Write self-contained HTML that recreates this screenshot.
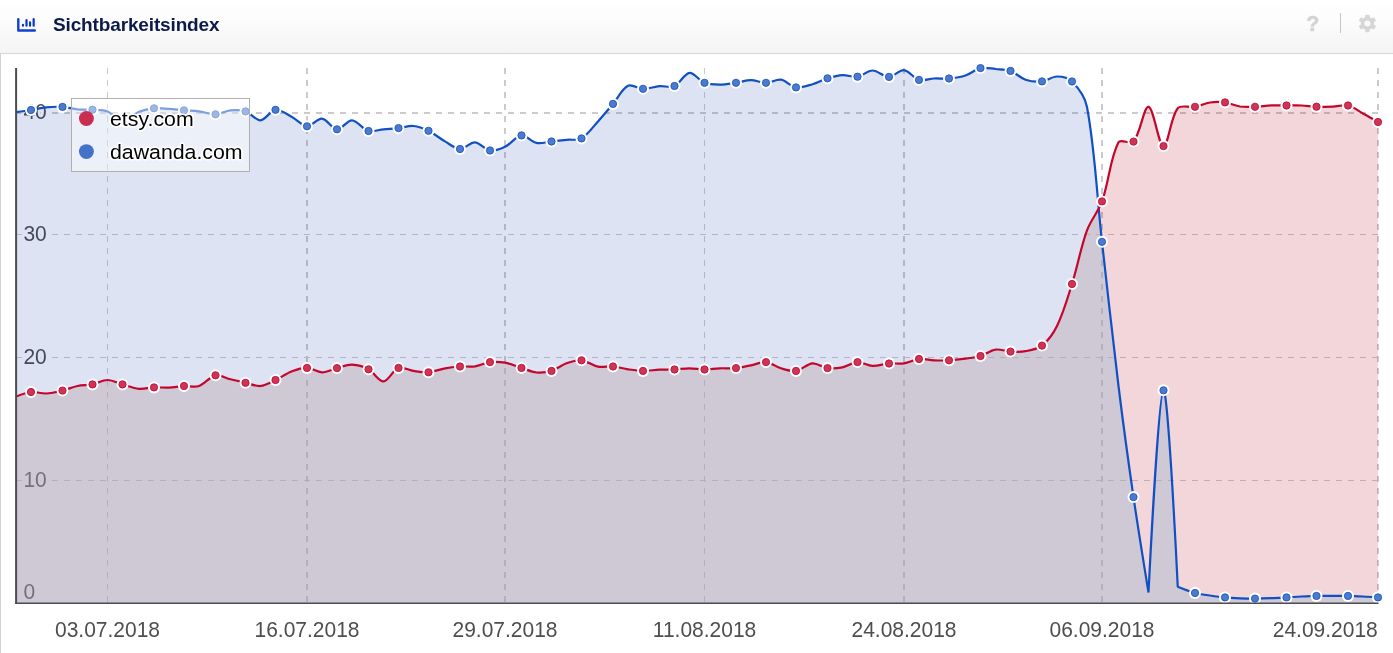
<!DOCTYPE html>
<html lang="de">
<head>
<meta charset="utf-8">
<title>Sichtbarkeitsindex</title>
<style>
html,body{margin:0;padding:0;background:#fff;}
body{width:1393px;height:653px;overflow:hidden;position:relative;font-family:"Liberation Sans",Arial,sans-serif;}
.panel{position:absolute;left:0;top:0;width:1393px;height:653px;box-sizing:border-box;background:#fff;overflow:hidden;}
.panel:before{content:"";position:absolute;left:0;top:53px;bottom:0;width:1px;background:#d0d0d0;}
.header{position:absolute;left:0;top:0;width:1393px;height:54px;box-sizing:border-box;background:linear-gradient(to bottom,#ffffff 0%,#fcfcfc 40%,#f4f4f4 100%);border-bottom:1px solid #d6d6d6;}
.title{position:absolute;left:53px;top:11px;height:28px;line-height:28px;font-size:19px;font-weight:bold;color:#0c1a4b;letter-spacing:-0.14px;white-space:nowrap;}
.icon{position:absolute;left:0;top:0;}
.help{position:absolute;left:1302.8px;top:9.9px;width:20px;height:28px;line-height:28px;text-align:center;font-size:21.5px;font-weight:bold;color:#d4d4d4;-webkit-text-stroke:0.6px #d4d4d4;}
.sep{position:absolute;left:1339.7px;top:13px;width:1.4px;height:20px;background:#c6c6c6;}
.gear{position:absolute;left:1350px;top:8px;}
svg.chart{position:absolute;left:0;top:0;}
svg.chart text{font-family:"Liberation Sans",Arial,sans-serif;}
</style>
</head>
<body>
<div class="panel">
  <div class="header">
    <svg class="icon" width="60" height="53" viewBox="0 0 60 53">
      <path d="M18.3 19.2V30.45H34.8" fill="none" stroke="#0f3fcf" stroke-width="2.4" stroke-linecap="round" stroke-linejoin="round"/>
      <path d="M22.95 24.95V25.65M26.5 20.15V25.65M30.05 22.45V25.65M33.65 19.2V25.65" fill="none" stroke="#0b36c6" stroke-width="2.2" stroke-linecap="round"/>
    </svg>
    <div class="title">Sichtbarkeitsindex</div>
    <div class="help">?</div>
    <div class="sep"></div>
    <svg class="gear" width="36" height="32" viewBox="0 0 36 32">
      <g transform="translate(17.45 15.45)">
        <g fill="#d6d6d6">
          <circle r="6.6"/>
          <rect x="-2.2" y="-8.8" width="4.4" height="17.6" rx="0.8"/>
          <rect x="-2.2" y="-8.8" width="4.4" height="17.6" rx="0.8" transform="rotate(60)"/>
          <rect x="-2.2" y="-8.8" width="4.4" height="17.6" rx="0.8" transform="rotate(120)"/>
        </g>
        <circle r="3" fill="#f9f9f9"/>
      </g>
    </svg>
  </div>
  <svg class="chart" width="1393" height="653" viewBox="0 0 1393 653">
    <defs>
      <clipPath id="plot"><rect x="16" y="54" width="1372" height="549.6"/></clipPath>
      <clipPath id="bluearea"><path d="M16.00,112.20C16.00,112.20 26.01,110.81 31.00,110.00C36.01,109.18 40.96,107.80 46.00,107.30C51.46,106.76 57.03,106.55 62.50,106.90C67.53,107.22 72.47,108.83 77.50,109.30C82.47,109.76 87.52,109.33 92.50,109.70C97.52,110.07 102.90,109.77 107.50,111.50C112.90,113.53 117.41,120.95 122.50,121.00C127.91,121.05 133.22,114.13 139.00,111.80C143.72,109.90 148.94,108.79 154.00,108.30C158.94,107.82 164.01,108.57 169.00,108.90C174.01,109.23 179.00,109.90 184.00,110.30C188.99,110.70 194.04,110.67 199.00,111.30C204.54,112.00 210.05,114.47 215.50,114.30C220.55,114.14 225.42,110.79 230.50,110.30C235.42,109.82 240.87,109.86 245.50,111.40C250.87,113.19 255.62,120.56 260.50,120.30C265.62,120.03 270.21,110.35 275.50,109.80C280.71,109.25 286.70,114.22 292.00,117.00C297.20,119.72 301.88,126.01 307.00,126.30C311.88,126.58 317.22,118.22 322.00,118.70C327.22,119.22 331.88,129.03 337.00,129.30C341.88,129.56 347.06,120.03 352.00,120.30C357.56,120.60 362.56,129.30 368.50,131.00C373.06,132.30 378.49,129.78 383.50,129.30C388.49,128.82 393.52,128.65 398.50,128.10C403.52,127.55 408.60,125.56 413.50,126.00C418.60,126.46 423.82,128.51 428.50,130.80C434.32,133.65 439.35,138.13 445.00,141.40C449.85,144.20 454.94,148.83 460.00,149.00C464.94,149.16 470.10,142.15 475.00,142.40C480.10,142.65 484.75,149.73 490.00,150.50C494.75,151.20 500.43,148.99 505.00,146.80C510.93,143.96 515.78,136.11 521.50,135.40C526.28,134.81 531.23,141.83 536.50,142.90C541.23,143.86 546.51,142.02 551.50,141.50C556.50,140.98 561.50,140.32 566.50,139.80C571.49,139.28 577.42,140.78 581.50,138.40C587.92,134.65 592.68,127.23 598.00,121.40C603.18,115.73 608.05,109.77 613.00,103.90C618.05,97.91 621.94,88.85 628.00,85.80C631.94,83.82 637.98,88.74 643.00,88.80C648.48,88.87 653.97,86.69 659.50,86.20C664.47,85.76 670.21,87.92 674.50,86.00C680.21,83.45 684.24,73.36 689.50,72.80C694.24,72.29 699.06,80.66 704.50,82.80C709.06,84.59 714.50,84.60 719.50,84.60C725.00,84.60 730.52,83.56 736.00,82.80C741.02,82.10 746.00,80.20 751.00,80.20C756.00,80.20 761.02,82.88 766.00,82.80C771.01,82.72 776.24,78.97 781.00,79.70C786.24,80.50 790.74,86.65 796.00,87.40C801.24,88.15 807.14,85.75 812.50,84.20C817.64,82.72 822.38,79.85 827.50,78.30C832.38,76.82 837.46,75.37 842.50,75.10C847.46,74.84 852.68,77.44 857.50,76.70C862.68,75.91 867.48,70.47 872.50,70.50C877.98,70.53 883.56,76.97 889.00,76.90C894.06,76.84 899.21,69.62 904.00,70.10C909.21,70.62 913.57,78.38 919.00,79.90C923.57,81.18 928.99,78.73 934.00,78.50C938.99,78.27 944.04,78.97 949.00,78.50C954.54,77.97 960.24,77.24 965.50,75.50C970.74,73.77 975.23,69.24 980.50,68.10C985.23,67.07 990.52,68.53 995.50,69.00C1000.51,69.47 1005.85,69.24 1010.50,70.90C1015.85,72.81 1020.13,77.91 1025.50,79.70C1030.63,81.41 1036.62,81.95 1042.00,81.40C1047.12,80.88 1052.01,76.48 1057.00,76.50C1062.00,76.52 1068.52,77.96 1072.00,81.50C1078.52,88.12 1085.21,97.43 1087.00,107.00C1095.21,150.86 1096.93,196.88 1102.00,241.80C1107.43,289.87 1112.58,337.99 1118.50,386.00C1123.08,423.08 1128.13,460.12 1133.50,497.10C1138.13,528.95 1148.50,592.50 1148.50,592.50C1148.50,592.50 1158.56,391.26 1163.50,390.30C1168.30,389.36 1177.75,586.80 1177.75,586.80C1177.75,586.80 1189.12,591.42 1195.00,593.00C1199.87,594.31 1204.99,594.76 1210.00,595.50C1214.99,596.23 1219.99,596.93 1225.00,597.40C1229.98,597.87 1235.00,598.10 1240.00,598.30C1245.00,598.50 1250.00,598.62 1255.00,598.60C1260.50,598.58 1266.00,598.41 1271.50,598.20C1276.50,598.01 1281.50,597.68 1286.50,597.40C1291.50,597.12 1296.50,596.75 1301.50,596.50C1306.50,596.25 1311.50,596.00 1316.50,595.90C1322.00,595.80 1327.50,595.90 1333.00,595.90C1338.00,595.90 1343.00,595.80 1348.00,595.90C1353.00,596.00 1358.00,596.25 1363.00,596.50C1368.00,596.75 1378.00,597.40 1378.00,597.40L1378.00,603.00L16.00,603.00Z"/></clipPath>
    </defs>
    <g stroke="#cbcbcb" stroke-dasharray="6 6" fill="none" shape-rendering="crispEdges">
<line x1="107.5" y1="68" x2="107.5" y2="603" stroke-width="1"/>
<line x1="307.0" y1="68" x2="307.0" y2="603" stroke-width="2"/>
<line x1="505.0" y1="68" x2="505.0" y2="603" stroke-width="2"/>
<line x1="704.5" y1="68" x2="704.5" y2="603" stroke-width="1"/>
<line x1="904.0" y1="68" x2="904.0" y2="603" stroke-width="2"/>
<line x1="1102.0" y1="68" x2="1102.0" y2="603" stroke-width="2"/>
<line x1="1378.0" y1="68" x2="1378.0" y2="603" stroke-width="2"/>
<line x1="16" y1="113.0" x2="1378" y2="113.0" stroke-width="2"/>
<line x1="16" y1="234.5" x2="1378" y2="234.5" stroke-width="1"/>
<line x1="16" y1="357.5" x2="1378" y2="357.5" stroke-width="1"/>
<line x1="16" y1="480.5" x2="1378" y2="480.5" stroke-width="1"/>
    </g>
    <g font-size="21" fill="#4c4c4c" stroke="#fff" stroke-width="5.5" stroke-linejoin="round" paint-order="stroke">
<text transform="translate(23.4 119.20) scale(1 1.06)">40</text>
<text transform="translate(23.4 241.10) scale(1 1.06)">30</text>
<text transform="translate(23.4 364.10) scale(1 1.06)">20</text>
<text transform="translate(23.4 487.10) scale(1 1.06)">10</text>
<text transform="translate(23.4 599.00) scale(1 1.06)">0</text>
    </g>
    <g clip-path="url(#plot)">
      <path d="M16.00,112.20C16.00,112.20 26.01,110.81 31.00,110.00C36.01,109.18 40.96,107.80 46.00,107.30C51.46,106.76 57.03,106.55 62.50,106.90C67.53,107.22 72.47,108.83 77.50,109.30C82.47,109.76 87.52,109.33 92.50,109.70C97.52,110.07 102.90,109.77 107.50,111.50C112.90,113.53 117.41,120.95 122.50,121.00C127.91,121.05 133.22,114.13 139.00,111.80C143.72,109.90 148.94,108.79 154.00,108.30C158.94,107.82 164.01,108.57 169.00,108.90C174.01,109.23 179.00,109.90 184.00,110.30C188.99,110.70 194.04,110.67 199.00,111.30C204.54,112.00 210.05,114.47 215.50,114.30C220.55,114.14 225.42,110.79 230.50,110.30C235.42,109.82 240.87,109.86 245.50,111.40C250.87,113.19 255.62,120.56 260.50,120.30C265.62,120.03 270.21,110.35 275.50,109.80C280.71,109.25 286.70,114.22 292.00,117.00C297.20,119.72 301.88,126.01 307.00,126.30C311.88,126.58 317.22,118.22 322.00,118.70C327.22,119.22 331.88,129.03 337.00,129.30C341.88,129.56 347.06,120.03 352.00,120.30C357.56,120.60 362.56,129.30 368.50,131.00C373.06,132.30 378.49,129.78 383.50,129.30C388.49,128.82 393.52,128.65 398.50,128.10C403.52,127.55 408.60,125.56 413.50,126.00C418.60,126.46 423.82,128.51 428.50,130.80C434.32,133.65 439.35,138.13 445.00,141.40C449.85,144.20 454.94,148.83 460.00,149.00C464.94,149.16 470.10,142.15 475.00,142.40C480.10,142.65 484.75,149.73 490.00,150.50C494.75,151.20 500.43,148.99 505.00,146.80C510.93,143.96 515.78,136.11 521.50,135.40C526.28,134.81 531.23,141.83 536.50,142.90C541.23,143.86 546.51,142.02 551.50,141.50C556.50,140.98 561.50,140.32 566.50,139.80C571.49,139.28 577.42,140.78 581.50,138.40C587.92,134.65 592.68,127.23 598.00,121.40C603.18,115.73 608.05,109.77 613.00,103.90C618.05,97.91 621.94,88.85 628.00,85.80C631.94,83.82 637.98,88.74 643.00,88.80C648.48,88.87 653.97,86.69 659.50,86.20C664.47,85.76 670.21,87.92 674.50,86.00C680.21,83.45 684.24,73.36 689.50,72.80C694.24,72.29 699.06,80.66 704.50,82.80C709.06,84.59 714.50,84.60 719.50,84.60C725.00,84.60 730.52,83.56 736.00,82.80C741.02,82.10 746.00,80.20 751.00,80.20C756.00,80.20 761.02,82.88 766.00,82.80C771.01,82.72 776.24,78.97 781.00,79.70C786.24,80.50 790.74,86.65 796.00,87.40C801.24,88.15 807.14,85.75 812.50,84.20C817.64,82.72 822.38,79.85 827.50,78.30C832.38,76.82 837.46,75.37 842.50,75.10C847.46,74.84 852.68,77.44 857.50,76.70C862.68,75.91 867.48,70.47 872.50,70.50C877.98,70.53 883.56,76.97 889.00,76.90C894.06,76.84 899.21,69.62 904.00,70.10C909.21,70.62 913.57,78.38 919.00,79.90C923.57,81.18 928.99,78.73 934.00,78.50C938.99,78.27 944.04,78.97 949.00,78.50C954.54,77.97 960.24,77.24 965.50,75.50C970.74,73.77 975.23,69.24 980.50,68.10C985.23,67.07 990.52,68.53 995.50,69.00C1000.51,69.47 1005.85,69.24 1010.50,70.90C1015.85,72.81 1020.13,77.91 1025.50,79.70C1030.63,81.41 1036.62,81.95 1042.00,81.40C1047.12,80.88 1052.01,76.48 1057.00,76.50C1062.00,76.52 1068.52,77.96 1072.00,81.50C1078.52,88.12 1085.21,97.43 1087.00,107.00C1095.21,150.86 1096.93,196.88 1102.00,241.80C1107.43,289.87 1112.58,337.99 1118.50,386.00C1123.08,423.08 1128.13,460.12 1133.50,497.10C1138.13,528.95 1148.50,592.50 1148.50,592.50C1148.50,592.50 1158.56,391.26 1163.50,390.30C1168.30,389.36 1177.75,586.80 1177.75,586.80C1177.75,586.80 1189.12,591.42 1195.00,593.00C1199.87,594.31 1204.99,594.76 1210.00,595.50C1214.99,596.23 1219.99,596.93 1225.00,597.40C1229.98,597.87 1235.00,598.10 1240.00,598.30C1245.00,598.50 1250.00,598.62 1255.00,598.60C1260.50,598.58 1266.00,598.41 1271.50,598.20C1276.50,598.01 1281.50,597.68 1286.50,597.40C1291.50,597.12 1296.50,596.75 1301.50,596.50C1306.50,596.25 1311.50,596.00 1316.50,595.90C1322.00,595.80 1327.50,595.90 1333.00,595.90C1338.00,595.90 1343.00,595.80 1348.00,595.90C1353.00,596.00 1358.00,596.25 1363.00,596.50C1368.00,596.75 1378.00,597.40 1378.00,597.40L1378.00,603.00L16.00,603.00Z" fill="rgba(28,68,168,0.15)"/>
      <path d="M16.00,396.60C16.00,396.60 25.90,392.53 31.00,392.00C35.90,391.49 41.03,393.72 46.00,393.50C51.53,393.25 57.08,391.89 62.50,390.60C67.58,389.39 72.40,387.05 77.50,386.00C82.40,384.99 87.59,385.38 92.50,384.40C97.59,383.38 102.50,380.00 107.50,380.00C112.50,380.00 117.48,383.00 122.50,384.40C127.98,385.93 133.42,388.27 139.00,388.80C143.92,389.27 148.99,387.60 154.00,387.40C158.99,387.20 164.01,387.83 169.00,387.60C174.01,387.37 178.99,386.27 184.00,386.00C188.99,385.73 194.46,387.54 199.00,386.00C204.96,383.98 209.63,376.55 215.50,375.30C220.13,374.31 225.48,378.05 230.50,379.30C235.48,380.54 240.49,381.68 245.50,382.80C250.49,383.91 255.63,386.45 260.50,386.00C265.63,385.52 270.63,382.27 275.50,380.00C281.13,377.37 286.25,373.51 292.00,371.30C296.74,369.48 302.04,367.73 307.00,367.90C312.04,368.07 316.99,372.27 322.00,372.30C326.99,372.33 331.97,369.37 337.00,368.10C341.97,366.84 347.03,364.51 352.00,364.70C357.53,364.91 363.56,366.68 368.50,369.30C374.06,372.25 378.62,381.63 383.50,381.40C388.61,381.16 392.81,369.89 398.50,367.90C402.81,366.39 408.46,370.16 413.50,370.90C418.46,371.63 423.56,372.71 428.50,372.30C434.06,371.84 439.44,369.32 445.00,368.30C449.94,367.39 454.98,366.83 460.00,366.50C464.98,366.17 470.09,367.02 475.00,366.30C480.09,365.55 484.91,362.71 490.00,362.10C494.91,361.51 500.12,361.80 505.00,362.70C510.62,363.74 515.99,366.19 521.50,367.90C526.49,369.45 531.40,371.99 536.50,372.50C541.40,372.99 546.77,372.35 551.50,370.90C556.77,369.28 561.26,365.15 566.50,363.30C571.26,361.62 576.63,359.77 581.50,360.30C587.13,360.91 592.32,365.58 598.00,366.70C602.82,367.65 608.04,366.07 613.00,366.50C618.04,366.94 622.97,368.56 628.00,369.30C632.97,370.03 637.99,370.84 643.00,370.90C648.49,370.97 653.99,369.94 659.50,369.70C664.49,369.48 669.51,369.73 674.50,369.50C679.51,369.27 684.50,368.30 689.50,368.30C694.50,368.30 699.50,369.50 704.50,369.50C709.50,369.50 714.49,368.52 719.50,368.30C724.99,368.06 730.55,368.62 736.00,368.10C741.04,367.62 746.01,366.30 751.00,365.30C756.01,364.30 761.14,361.61 766.00,362.10C771.14,362.61 775.84,366.79 781.00,368.30C785.84,369.72 791.21,371.66 796.00,370.90C801.71,369.99 806.88,363.80 812.50,363.30C817.38,362.87 822.38,367.42 827.50,368.10C832.38,368.75 837.64,368.27 842.50,367.30C847.64,366.27 852.44,362.34 857.50,362.10C862.44,361.87 867.45,365.68 872.50,365.90C877.95,366.14 883.47,363.96 889.00,363.50C893.97,363.09 899.10,364.04 904.00,363.30C909.10,362.54 913.91,359.51 919.00,359.00C923.91,358.51 928.99,360.08 934.00,360.30C938.99,360.52 944.01,360.57 949.00,360.30C954.51,360.00 960.03,359.35 965.50,358.60C970.52,357.91 975.67,357.45 980.50,356.00C985.67,354.45 990.31,350.36 995.50,349.60C1000.31,348.89 1005.48,351.33 1010.50,351.60C1015.48,351.87 1020.64,352.13 1025.50,351.20C1031.14,350.13 1037.66,349.08 1042.00,345.60C1048.15,340.68 1053.44,333.31 1057.00,326.00C1063.44,312.78 1067.56,298.18 1072.00,284.00C1077.56,266.28 1080.69,247.68 1087.00,230.30C1090.69,220.15 1098.36,211.57 1102.00,201.40C1108.86,182.24 1110.07,158.31 1118.50,142.30C1120.56,138.38 1130.66,144.96 1133.50,141.60C1140.66,133.13 1143.76,106.09 1148.50,106.80C1153.76,107.59 1158.53,145.84 1163.50,146.10C1168.28,146.34 1170.40,117.47 1177.75,108.30C1180.90,104.37 1189.35,107.82 1195.00,106.80C1200.10,105.88 1204.90,103.25 1210.00,102.50C1214.90,101.78 1220.09,101.75 1225.00,102.40C1230.09,103.08 1234.91,105.75 1240.00,106.50C1244.91,107.22 1250.01,106.97 1255.00,106.80C1260.51,106.61 1265.99,105.63 1271.50,105.40C1276.49,105.19 1281.50,105.48 1286.50,105.50C1291.50,105.52 1296.51,105.30 1301.50,105.50C1306.51,105.70 1311.49,106.51 1316.50,106.70C1321.99,106.91 1327.51,106.91 1333.00,106.70C1338.01,106.51 1343.31,104.44 1348.00,105.50C1353.30,106.70 1358.04,110.77 1363.00,113.50C1368.03,116.27 1378.00,122.00 1378.00,122.00L1378.00,603.00L16.00,603.00Z" fill="rgba(180,0,24,0.16)"/>
      <g clip-path="url(#bluearea)"><path d="M16.00,396.60C16.00,396.60 25.90,392.53 31.00,392.00C35.90,391.49 41.03,393.72 46.00,393.50C51.53,393.25 57.08,391.89 62.50,390.60C67.58,389.39 72.40,387.05 77.50,386.00C82.40,384.99 87.59,385.38 92.50,384.40C97.59,383.38 102.50,380.00 107.50,380.00C112.50,380.00 117.48,383.00 122.50,384.40C127.98,385.93 133.42,388.27 139.00,388.80C143.92,389.27 148.99,387.60 154.00,387.40C158.99,387.20 164.01,387.83 169.00,387.60C174.01,387.37 178.99,386.27 184.00,386.00C188.99,385.73 194.46,387.54 199.00,386.00C204.96,383.98 209.63,376.55 215.50,375.30C220.13,374.31 225.48,378.05 230.50,379.30C235.48,380.54 240.49,381.68 245.50,382.80C250.49,383.91 255.63,386.45 260.50,386.00C265.63,385.52 270.63,382.27 275.50,380.00C281.13,377.37 286.25,373.51 292.00,371.30C296.74,369.48 302.04,367.73 307.00,367.90C312.04,368.07 316.99,372.27 322.00,372.30C326.99,372.33 331.97,369.37 337.00,368.10C341.97,366.84 347.03,364.51 352.00,364.70C357.53,364.91 363.56,366.68 368.50,369.30C374.06,372.25 378.62,381.63 383.50,381.40C388.61,381.16 392.81,369.89 398.50,367.90C402.81,366.39 408.46,370.16 413.50,370.90C418.46,371.63 423.56,372.71 428.50,372.30C434.06,371.84 439.44,369.32 445.00,368.30C449.94,367.39 454.98,366.83 460.00,366.50C464.98,366.17 470.09,367.02 475.00,366.30C480.09,365.55 484.91,362.71 490.00,362.10C494.91,361.51 500.12,361.80 505.00,362.70C510.62,363.74 515.99,366.19 521.50,367.90C526.49,369.45 531.40,371.99 536.50,372.50C541.40,372.99 546.77,372.35 551.50,370.90C556.77,369.28 561.26,365.15 566.50,363.30C571.26,361.62 576.63,359.77 581.50,360.30C587.13,360.91 592.32,365.58 598.00,366.70C602.82,367.65 608.04,366.07 613.00,366.50C618.04,366.94 622.97,368.56 628.00,369.30C632.97,370.03 637.99,370.84 643.00,370.90C648.49,370.97 653.99,369.94 659.50,369.70C664.49,369.48 669.51,369.73 674.50,369.50C679.51,369.27 684.50,368.30 689.50,368.30C694.50,368.30 699.50,369.50 704.50,369.50C709.50,369.50 714.49,368.52 719.50,368.30C724.99,368.06 730.55,368.62 736.00,368.10C741.04,367.62 746.01,366.30 751.00,365.30C756.01,364.30 761.14,361.61 766.00,362.10C771.14,362.61 775.84,366.79 781.00,368.30C785.84,369.72 791.21,371.66 796.00,370.90C801.71,369.99 806.88,363.80 812.50,363.30C817.38,362.87 822.38,367.42 827.50,368.10C832.38,368.75 837.64,368.27 842.50,367.30C847.64,366.27 852.44,362.34 857.50,362.10C862.44,361.87 867.45,365.68 872.50,365.90C877.95,366.14 883.47,363.96 889.00,363.50C893.97,363.09 899.10,364.04 904.00,363.30C909.10,362.54 913.91,359.51 919.00,359.00C923.91,358.51 928.99,360.08 934.00,360.30C938.99,360.52 944.01,360.57 949.00,360.30C954.51,360.00 960.03,359.35 965.50,358.60C970.52,357.91 975.67,357.45 980.50,356.00C985.67,354.45 990.31,350.36 995.50,349.60C1000.31,348.89 1005.48,351.33 1010.50,351.60C1015.48,351.87 1020.64,352.13 1025.50,351.20C1031.14,350.13 1037.66,349.08 1042.00,345.60C1048.15,340.68 1053.44,333.31 1057.00,326.00C1063.44,312.78 1067.56,298.18 1072.00,284.00C1077.56,266.28 1080.69,247.68 1087.00,230.30C1090.69,220.15 1098.36,211.57 1102.00,201.40C1108.86,182.24 1110.07,158.31 1118.50,142.30C1120.56,138.38 1130.66,144.96 1133.50,141.60C1140.66,133.13 1143.76,106.09 1148.50,106.80C1153.76,107.59 1158.53,145.84 1163.50,146.10C1168.28,146.34 1170.40,117.47 1177.75,108.30C1180.90,104.37 1189.35,107.82 1195.00,106.80C1200.10,105.88 1204.90,103.25 1210.00,102.50C1214.90,101.78 1220.09,101.75 1225.00,102.40C1230.09,103.08 1234.91,105.75 1240.00,106.50C1244.91,107.22 1250.01,106.97 1255.00,106.80C1260.51,106.61 1265.99,105.63 1271.50,105.40C1276.49,105.19 1281.50,105.48 1286.50,105.50C1291.50,105.52 1296.51,105.30 1301.50,105.50C1306.51,105.70 1311.49,106.51 1316.50,106.70C1321.99,106.91 1327.51,106.91 1333.00,106.70C1338.01,106.51 1343.31,104.44 1348.00,105.50C1353.30,106.70 1358.04,110.77 1363.00,113.50C1368.03,116.27 1378.00,122.00 1378.00,122.00L1378.00,603.00L16.00,603.00Z" fill="rgba(193,225,230,0.3)"/></g>
    </g>
    <g clip-path="url(#plot)" fill="none" stroke-width="2.2" stroke-linejoin="bevel">
      <path d="M16.00,112.20C16.00,112.20 26.01,110.81 31.00,110.00C36.01,109.18 40.96,107.80 46.00,107.30C51.46,106.76 57.03,106.55 62.50,106.90C67.53,107.22 72.47,108.83 77.50,109.30C82.47,109.76 87.52,109.33 92.50,109.70C97.52,110.07 102.90,109.77 107.50,111.50C112.90,113.53 117.41,120.95 122.50,121.00C127.91,121.05 133.22,114.13 139.00,111.80C143.72,109.90 148.94,108.79 154.00,108.30C158.94,107.82 164.01,108.57 169.00,108.90C174.01,109.23 179.00,109.90 184.00,110.30C188.99,110.70 194.04,110.67 199.00,111.30C204.54,112.00 210.05,114.47 215.50,114.30C220.55,114.14 225.42,110.79 230.50,110.30C235.42,109.82 240.87,109.86 245.50,111.40C250.87,113.19 255.62,120.56 260.50,120.30C265.62,120.03 270.21,110.35 275.50,109.80C280.71,109.25 286.70,114.22 292.00,117.00C297.20,119.72 301.88,126.01 307.00,126.30C311.88,126.58 317.22,118.22 322.00,118.70C327.22,119.22 331.88,129.03 337.00,129.30C341.88,129.56 347.06,120.03 352.00,120.30C357.56,120.60 362.56,129.30 368.50,131.00C373.06,132.30 378.49,129.78 383.50,129.30C388.49,128.82 393.52,128.65 398.50,128.10C403.52,127.55 408.60,125.56 413.50,126.00C418.60,126.46 423.82,128.51 428.50,130.80C434.32,133.65 439.35,138.13 445.00,141.40C449.85,144.20 454.94,148.83 460.00,149.00C464.94,149.16 470.10,142.15 475.00,142.40C480.10,142.65 484.75,149.73 490.00,150.50C494.75,151.20 500.43,148.99 505.00,146.80C510.93,143.96 515.78,136.11 521.50,135.40C526.28,134.81 531.23,141.83 536.50,142.90C541.23,143.86 546.51,142.02 551.50,141.50C556.50,140.98 561.50,140.32 566.50,139.80C571.49,139.28 577.42,140.78 581.50,138.40C587.92,134.65 592.68,127.23 598.00,121.40C603.18,115.73 608.05,109.77 613.00,103.90C618.05,97.91 621.94,88.85 628.00,85.80C631.94,83.82 637.98,88.74 643.00,88.80C648.48,88.87 653.97,86.69 659.50,86.20C664.47,85.76 670.21,87.92 674.50,86.00C680.21,83.45 684.24,73.36 689.50,72.80C694.24,72.29 699.06,80.66 704.50,82.80C709.06,84.59 714.50,84.60 719.50,84.60C725.00,84.60 730.52,83.56 736.00,82.80C741.02,82.10 746.00,80.20 751.00,80.20C756.00,80.20 761.02,82.88 766.00,82.80C771.01,82.72 776.24,78.97 781.00,79.70C786.24,80.50 790.74,86.65 796.00,87.40C801.24,88.15 807.14,85.75 812.50,84.20C817.64,82.72 822.38,79.85 827.50,78.30C832.38,76.82 837.46,75.37 842.50,75.10C847.46,74.84 852.68,77.44 857.50,76.70C862.68,75.91 867.48,70.47 872.50,70.50C877.98,70.53 883.56,76.97 889.00,76.90C894.06,76.84 899.21,69.62 904.00,70.10C909.21,70.62 913.57,78.38 919.00,79.90C923.57,81.18 928.99,78.73 934.00,78.50C938.99,78.27 944.04,78.97 949.00,78.50C954.54,77.97 960.24,77.24 965.50,75.50C970.74,73.77 975.23,69.24 980.50,68.10C985.23,67.07 990.52,68.53 995.50,69.00C1000.51,69.47 1005.85,69.24 1010.50,70.90C1015.85,72.81 1020.13,77.91 1025.50,79.70C1030.63,81.41 1036.62,81.95 1042.00,81.40C1047.12,80.88 1052.01,76.48 1057.00,76.50C1062.00,76.52 1068.52,77.96 1072.00,81.50C1078.52,88.12 1085.21,97.43 1087.00,107.00C1095.21,150.86 1096.93,196.88 1102.00,241.80C1107.43,289.87 1112.58,337.99 1118.50,386.00C1123.08,423.08 1128.13,460.12 1133.50,497.10C1138.13,528.95 1148.50,592.50 1148.50,592.50C1148.50,592.50 1158.56,391.26 1163.50,390.30C1168.30,389.36 1177.75,586.80 1177.75,586.80C1177.75,586.80 1189.12,591.42 1195.00,593.00C1199.87,594.31 1204.99,594.76 1210.00,595.50C1214.99,596.23 1219.99,596.93 1225.00,597.40C1229.98,597.87 1235.00,598.10 1240.00,598.30C1245.00,598.50 1250.00,598.62 1255.00,598.60C1260.50,598.58 1266.00,598.41 1271.50,598.20C1276.50,598.01 1281.50,597.68 1286.50,597.40C1291.50,597.12 1296.50,596.75 1301.50,596.50C1306.50,596.25 1311.50,596.00 1316.50,595.90C1322.00,595.80 1327.50,595.90 1333.00,595.90C1338.00,595.90 1343.00,595.80 1348.00,595.90C1353.00,596.00 1358.00,596.25 1363.00,596.50C1368.00,596.75 1378.00,597.40 1378.00,597.40" stroke="#1150c4"/>
      <path d="M16.00,396.60C16.00,396.60 25.90,392.53 31.00,392.00C35.90,391.49 41.03,393.72 46.00,393.50C51.53,393.25 57.08,391.89 62.50,390.60C67.58,389.39 72.40,387.05 77.50,386.00C82.40,384.99 87.59,385.38 92.50,384.40C97.59,383.38 102.50,380.00 107.50,380.00C112.50,380.00 117.48,383.00 122.50,384.40C127.98,385.93 133.42,388.27 139.00,388.80C143.92,389.27 148.99,387.60 154.00,387.40C158.99,387.20 164.01,387.83 169.00,387.60C174.01,387.37 178.99,386.27 184.00,386.00C188.99,385.73 194.46,387.54 199.00,386.00C204.96,383.98 209.63,376.55 215.50,375.30C220.13,374.31 225.48,378.05 230.50,379.30C235.48,380.54 240.49,381.68 245.50,382.80C250.49,383.91 255.63,386.45 260.50,386.00C265.63,385.52 270.63,382.27 275.50,380.00C281.13,377.37 286.25,373.51 292.00,371.30C296.74,369.48 302.04,367.73 307.00,367.90C312.04,368.07 316.99,372.27 322.00,372.30C326.99,372.33 331.97,369.37 337.00,368.10C341.97,366.84 347.03,364.51 352.00,364.70C357.53,364.91 363.56,366.68 368.50,369.30C374.06,372.25 378.62,381.63 383.50,381.40C388.61,381.16 392.81,369.89 398.50,367.90C402.81,366.39 408.46,370.16 413.50,370.90C418.46,371.63 423.56,372.71 428.50,372.30C434.06,371.84 439.44,369.32 445.00,368.30C449.94,367.39 454.98,366.83 460.00,366.50C464.98,366.17 470.09,367.02 475.00,366.30C480.09,365.55 484.91,362.71 490.00,362.10C494.91,361.51 500.12,361.80 505.00,362.70C510.62,363.74 515.99,366.19 521.50,367.90C526.49,369.45 531.40,371.99 536.50,372.50C541.40,372.99 546.77,372.35 551.50,370.90C556.77,369.28 561.26,365.15 566.50,363.30C571.26,361.62 576.63,359.77 581.50,360.30C587.13,360.91 592.32,365.58 598.00,366.70C602.82,367.65 608.04,366.07 613.00,366.50C618.04,366.94 622.97,368.56 628.00,369.30C632.97,370.03 637.99,370.84 643.00,370.90C648.49,370.97 653.99,369.94 659.50,369.70C664.49,369.48 669.51,369.73 674.50,369.50C679.51,369.27 684.50,368.30 689.50,368.30C694.50,368.30 699.50,369.50 704.50,369.50C709.50,369.50 714.49,368.52 719.50,368.30C724.99,368.06 730.55,368.62 736.00,368.10C741.04,367.62 746.01,366.30 751.00,365.30C756.01,364.30 761.14,361.61 766.00,362.10C771.14,362.61 775.84,366.79 781.00,368.30C785.84,369.72 791.21,371.66 796.00,370.90C801.71,369.99 806.88,363.80 812.50,363.30C817.38,362.87 822.38,367.42 827.50,368.10C832.38,368.75 837.64,368.27 842.50,367.30C847.64,366.27 852.44,362.34 857.50,362.10C862.44,361.87 867.45,365.68 872.50,365.90C877.95,366.14 883.47,363.96 889.00,363.50C893.97,363.09 899.10,364.04 904.00,363.30C909.10,362.54 913.91,359.51 919.00,359.00C923.91,358.51 928.99,360.08 934.00,360.30C938.99,360.52 944.01,360.57 949.00,360.30C954.51,360.00 960.03,359.35 965.50,358.60C970.52,357.91 975.67,357.45 980.50,356.00C985.67,354.45 990.31,350.36 995.50,349.60C1000.31,348.89 1005.48,351.33 1010.50,351.60C1015.48,351.87 1020.64,352.13 1025.50,351.20C1031.14,350.13 1037.66,349.08 1042.00,345.60C1048.15,340.68 1053.44,333.31 1057.00,326.00C1063.44,312.78 1067.56,298.18 1072.00,284.00C1077.56,266.28 1080.69,247.68 1087.00,230.30C1090.69,220.15 1098.36,211.57 1102.00,201.40C1108.86,182.24 1110.07,158.31 1118.50,142.30C1120.56,138.38 1130.66,144.96 1133.50,141.60C1140.66,133.13 1143.76,106.09 1148.50,106.80C1153.76,107.59 1158.53,145.84 1163.50,146.10C1168.28,146.34 1170.40,117.47 1177.75,108.30C1180.90,104.37 1189.35,107.82 1195.00,106.80C1200.10,105.88 1204.90,103.25 1210.00,102.50C1214.90,101.78 1220.09,101.75 1225.00,102.40C1230.09,103.08 1234.91,105.75 1240.00,106.50C1244.91,107.22 1250.01,106.97 1255.00,106.80C1260.51,106.61 1265.99,105.63 1271.50,105.40C1276.49,105.19 1281.50,105.48 1286.50,105.50C1291.50,105.52 1296.51,105.30 1301.50,105.50C1306.51,105.70 1311.49,106.51 1316.50,106.70C1321.99,106.91 1327.51,106.91 1333.00,106.70C1338.01,106.51 1343.31,104.44 1348.00,105.50C1353.30,106.70 1358.04,110.77 1363.00,113.50C1368.03,116.27 1378.00,122.00 1378.00,122.00" stroke="#c4062c"/>
    </g>
    <g>
<circle cx="31.00" cy="110.00" r="6" fill="#fff"/><circle cx="31.00" cy="110.00" r="3.65" fill="#4d7acd" stroke="#1150c4" stroke-width="0.8"/>
<circle cx="62.50" cy="106.90" r="6" fill="#fff"/><circle cx="62.50" cy="106.90" r="3.65" fill="#4d7acd" stroke="#1150c4" stroke-width="0.8"/>
<circle cx="92.50" cy="109.70" r="6" fill="#fff"/><circle cx="92.50" cy="109.70" r="3.65" fill="#4d7acd" stroke="#1150c4" stroke-width="0.8"/>
<circle cx="122.50" cy="121.00" r="6" fill="#fff"/><circle cx="122.50" cy="121.00" r="3.65" fill="#4d7acd" stroke="#1150c4" stroke-width="0.8"/>
<circle cx="154.00" cy="108.30" r="6" fill="#fff"/><circle cx="154.00" cy="108.30" r="3.65" fill="#4d7acd" stroke="#1150c4" stroke-width="0.8"/>
<circle cx="184.00" cy="110.30" r="6" fill="#fff"/><circle cx="184.00" cy="110.30" r="3.65" fill="#4d7acd" stroke="#1150c4" stroke-width="0.8"/>
<circle cx="215.50" cy="114.30" r="6" fill="#fff"/><circle cx="215.50" cy="114.30" r="3.65" fill="#4d7acd" stroke="#1150c4" stroke-width="0.8"/>
<circle cx="245.50" cy="111.40" r="6" fill="#fff"/><circle cx="245.50" cy="111.40" r="3.65" fill="#4d7acd" stroke="#1150c4" stroke-width="0.8"/>
<circle cx="275.50" cy="109.80" r="6" fill="#fff"/><circle cx="275.50" cy="109.80" r="3.65" fill="#4d7acd" stroke="#1150c4" stroke-width="0.8"/>
<circle cx="307.00" cy="126.30" r="6" fill="#fff"/><circle cx="307.00" cy="126.30" r="3.65" fill="#4d7acd" stroke="#1150c4" stroke-width="0.8"/>
<circle cx="337.00" cy="129.30" r="6" fill="#fff"/><circle cx="337.00" cy="129.30" r="3.65" fill="#4d7acd" stroke="#1150c4" stroke-width="0.8"/>
<circle cx="368.50" cy="131.00" r="6" fill="#fff"/><circle cx="368.50" cy="131.00" r="3.65" fill="#4d7acd" stroke="#1150c4" stroke-width="0.8"/>
<circle cx="398.50" cy="128.10" r="6" fill="#fff"/><circle cx="398.50" cy="128.10" r="3.65" fill="#4d7acd" stroke="#1150c4" stroke-width="0.8"/>
<circle cx="428.50" cy="130.80" r="6" fill="#fff"/><circle cx="428.50" cy="130.80" r="3.65" fill="#4d7acd" stroke="#1150c4" stroke-width="0.8"/>
<circle cx="460.00" cy="149.00" r="6" fill="#fff"/><circle cx="460.00" cy="149.00" r="3.65" fill="#4d7acd" stroke="#1150c4" stroke-width="0.8"/>
<circle cx="490.00" cy="150.50" r="6" fill="#fff"/><circle cx="490.00" cy="150.50" r="3.65" fill="#4d7acd" stroke="#1150c4" stroke-width="0.8"/>
<circle cx="521.50" cy="135.40" r="6" fill="#fff"/><circle cx="521.50" cy="135.40" r="3.65" fill="#4d7acd" stroke="#1150c4" stroke-width="0.8"/>
<circle cx="551.50" cy="141.50" r="6" fill="#fff"/><circle cx="551.50" cy="141.50" r="3.65" fill="#4d7acd" stroke="#1150c4" stroke-width="0.8"/>
<circle cx="581.50" cy="138.40" r="6" fill="#fff"/><circle cx="581.50" cy="138.40" r="3.65" fill="#4d7acd" stroke="#1150c4" stroke-width="0.8"/>
<circle cx="613.00" cy="103.90" r="6" fill="#fff"/><circle cx="613.00" cy="103.90" r="3.65" fill="#4d7acd" stroke="#1150c4" stroke-width="0.8"/>
<circle cx="643.00" cy="88.80" r="6" fill="#fff"/><circle cx="643.00" cy="88.80" r="3.65" fill="#4d7acd" stroke="#1150c4" stroke-width="0.8"/>
<circle cx="674.50" cy="86.00" r="6" fill="#fff"/><circle cx="674.50" cy="86.00" r="3.65" fill="#4d7acd" stroke="#1150c4" stroke-width="0.8"/>
<circle cx="704.50" cy="82.80" r="6" fill="#fff"/><circle cx="704.50" cy="82.80" r="3.65" fill="#4d7acd" stroke="#1150c4" stroke-width="0.8"/>
<circle cx="736.00" cy="82.80" r="6" fill="#fff"/><circle cx="736.00" cy="82.80" r="3.65" fill="#4d7acd" stroke="#1150c4" stroke-width="0.8"/>
<circle cx="766.00" cy="82.80" r="6" fill="#fff"/><circle cx="766.00" cy="82.80" r="3.65" fill="#4d7acd" stroke="#1150c4" stroke-width="0.8"/>
<circle cx="796.00" cy="87.40" r="6" fill="#fff"/><circle cx="796.00" cy="87.40" r="3.65" fill="#4d7acd" stroke="#1150c4" stroke-width="0.8"/>
<circle cx="827.50" cy="78.30" r="6" fill="#fff"/><circle cx="827.50" cy="78.30" r="3.65" fill="#4d7acd" stroke="#1150c4" stroke-width="0.8"/>
<circle cx="857.50" cy="76.70" r="6" fill="#fff"/><circle cx="857.50" cy="76.70" r="3.65" fill="#4d7acd" stroke="#1150c4" stroke-width="0.8"/>
<circle cx="889.00" cy="76.90" r="6" fill="#fff"/><circle cx="889.00" cy="76.90" r="3.65" fill="#4d7acd" stroke="#1150c4" stroke-width="0.8"/>
<circle cx="919.00" cy="79.90" r="6" fill="#fff"/><circle cx="919.00" cy="79.90" r="3.65" fill="#4d7acd" stroke="#1150c4" stroke-width="0.8"/>
<circle cx="949.00" cy="78.50" r="6" fill="#fff"/><circle cx="949.00" cy="78.50" r="3.65" fill="#4d7acd" stroke="#1150c4" stroke-width="0.8"/>
<circle cx="980.50" cy="68.10" r="6" fill="#fff"/><circle cx="980.50" cy="68.10" r="3.65" fill="#4d7acd" stroke="#1150c4" stroke-width="0.8"/>
<circle cx="1010.50" cy="70.90" r="6" fill="#fff"/><circle cx="1010.50" cy="70.90" r="3.65" fill="#4d7acd" stroke="#1150c4" stroke-width="0.8"/>
<circle cx="1042.00" cy="81.40" r="6" fill="#fff"/><circle cx="1042.00" cy="81.40" r="3.65" fill="#4d7acd" stroke="#1150c4" stroke-width="0.8"/>
<circle cx="1072.00" cy="81.50" r="6" fill="#fff"/><circle cx="1072.00" cy="81.50" r="3.65" fill="#4d7acd" stroke="#1150c4" stroke-width="0.8"/>
<circle cx="1102.00" cy="241.80" r="6" fill="#fff"/><circle cx="1102.00" cy="241.80" r="3.65" fill="#4d7acd" stroke="#1150c4" stroke-width="0.8"/>
<circle cx="1133.50" cy="497.10" r="6" fill="#fff"/><circle cx="1133.50" cy="497.10" r="3.65" fill="#4d7acd" stroke="#1150c4" stroke-width="0.8"/>
<circle cx="1163.50" cy="390.30" r="6" fill="#fff"/><circle cx="1163.50" cy="390.30" r="3.65" fill="#4d7acd" stroke="#1150c4" stroke-width="0.8"/>
<circle cx="1195.00" cy="593.00" r="6" fill="#fff"/><circle cx="1195.00" cy="593.00" r="3.65" fill="#4d7acd" stroke="#1150c4" stroke-width="0.8"/>
<circle cx="1225.00" cy="597.40" r="6" fill="#fff"/><circle cx="1225.00" cy="597.40" r="3.65" fill="#4d7acd" stroke="#1150c4" stroke-width="0.8"/>
<circle cx="1255.00" cy="598.60" r="6" fill="#fff"/><circle cx="1255.00" cy="598.60" r="3.65" fill="#4d7acd" stroke="#1150c4" stroke-width="0.8"/>
<circle cx="1286.50" cy="597.40" r="6" fill="#fff"/><circle cx="1286.50" cy="597.40" r="3.65" fill="#4d7acd" stroke="#1150c4" stroke-width="0.8"/>
<circle cx="1316.50" cy="595.90" r="6" fill="#fff"/><circle cx="1316.50" cy="595.90" r="3.65" fill="#4d7acd" stroke="#1150c4" stroke-width="0.8"/>
<circle cx="1348.00" cy="595.90" r="6" fill="#fff"/><circle cx="1348.00" cy="595.90" r="3.65" fill="#4d7acd" stroke="#1150c4" stroke-width="0.8"/>
<circle cx="1378.00" cy="597.40" r="6" fill="#fff"/><circle cx="1378.00" cy="597.40" r="3.65" fill="#4d7acd" stroke="#1150c4" stroke-width="0.8"/>
    </g>
    <g>
<circle cx="31.00" cy="392.00" r="6" fill="#fff"/><circle cx="31.00" cy="392.00" r="3.65" fill="#cc3557" stroke="#c4062c" stroke-width="0.8"/>
<circle cx="62.50" cy="390.60" r="6" fill="#fff"/><circle cx="62.50" cy="390.60" r="3.65" fill="#cc3557" stroke="#c4062c" stroke-width="0.8"/>
<circle cx="92.50" cy="384.40" r="6" fill="#fff"/><circle cx="92.50" cy="384.40" r="3.65" fill="#cc3557" stroke="#c4062c" stroke-width="0.8"/>
<circle cx="122.50" cy="384.40" r="6" fill="#fff"/><circle cx="122.50" cy="384.40" r="3.65" fill="#cc3557" stroke="#c4062c" stroke-width="0.8"/>
<circle cx="154.00" cy="387.40" r="6" fill="#fff"/><circle cx="154.00" cy="387.40" r="3.65" fill="#cc3557" stroke="#c4062c" stroke-width="0.8"/>
<circle cx="184.00" cy="386.00" r="6" fill="#fff"/><circle cx="184.00" cy="386.00" r="3.65" fill="#cc3557" stroke="#c4062c" stroke-width="0.8"/>
<circle cx="215.50" cy="375.30" r="6" fill="#fff"/><circle cx="215.50" cy="375.30" r="3.65" fill="#cc3557" stroke="#c4062c" stroke-width="0.8"/>
<circle cx="245.50" cy="382.80" r="6" fill="#fff"/><circle cx="245.50" cy="382.80" r="3.65" fill="#cc3557" stroke="#c4062c" stroke-width="0.8"/>
<circle cx="275.50" cy="380.00" r="6" fill="#fff"/><circle cx="275.50" cy="380.00" r="3.65" fill="#cc3557" stroke="#c4062c" stroke-width="0.8"/>
<circle cx="307.00" cy="367.90" r="6" fill="#fff"/><circle cx="307.00" cy="367.90" r="3.65" fill="#cc3557" stroke="#c4062c" stroke-width="0.8"/>
<circle cx="337.00" cy="368.10" r="6" fill="#fff"/><circle cx="337.00" cy="368.10" r="3.65" fill="#cc3557" stroke="#c4062c" stroke-width="0.8"/>
<circle cx="368.50" cy="369.30" r="6" fill="#fff"/><circle cx="368.50" cy="369.30" r="3.65" fill="#cc3557" stroke="#c4062c" stroke-width="0.8"/>
<circle cx="398.50" cy="367.90" r="6" fill="#fff"/><circle cx="398.50" cy="367.90" r="3.65" fill="#cc3557" stroke="#c4062c" stroke-width="0.8"/>
<circle cx="428.50" cy="372.30" r="6" fill="#fff"/><circle cx="428.50" cy="372.30" r="3.65" fill="#cc3557" stroke="#c4062c" stroke-width="0.8"/>
<circle cx="460.00" cy="366.50" r="6" fill="#fff"/><circle cx="460.00" cy="366.50" r="3.65" fill="#cc3557" stroke="#c4062c" stroke-width="0.8"/>
<circle cx="490.00" cy="362.10" r="6" fill="#fff"/><circle cx="490.00" cy="362.10" r="3.65" fill="#cc3557" stroke="#c4062c" stroke-width="0.8"/>
<circle cx="521.50" cy="367.90" r="6" fill="#fff"/><circle cx="521.50" cy="367.90" r="3.65" fill="#cc3557" stroke="#c4062c" stroke-width="0.8"/>
<circle cx="551.50" cy="370.90" r="6" fill="#fff"/><circle cx="551.50" cy="370.90" r="3.65" fill="#cc3557" stroke="#c4062c" stroke-width="0.8"/>
<circle cx="581.50" cy="360.30" r="6" fill="#fff"/><circle cx="581.50" cy="360.30" r="3.65" fill="#cc3557" stroke="#c4062c" stroke-width="0.8"/>
<circle cx="613.00" cy="366.50" r="6" fill="#fff"/><circle cx="613.00" cy="366.50" r="3.65" fill="#cc3557" stroke="#c4062c" stroke-width="0.8"/>
<circle cx="643.00" cy="370.90" r="6" fill="#fff"/><circle cx="643.00" cy="370.90" r="3.65" fill="#cc3557" stroke="#c4062c" stroke-width="0.8"/>
<circle cx="674.50" cy="369.50" r="6" fill="#fff"/><circle cx="674.50" cy="369.50" r="3.65" fill="#cc3557" stroke="#c4062c" stroke-width="0.8"/>
<circle cx="704.50" cy="369.50" r="6" fill="#fff"/><circle cx="704.50" cy="369.50" r="3.65" fill="#cc3557" stroke="#c4062c" stroke-width="0.8"/>
<circle cx="736.00" cy="368.10" r="6" fill="#fff"/><circle cx="736.00" cy="368.10" r="3.65" fill="#cc3557" stroke="#c4062c" stroke-width="0.8"/>
<circle cx="766.00" cy="362.10" r="6" fill="#fff"/><circle cx="766.00" cy="362.10" r="3.65" fill="#cc3557" stroke="#c4062c" stroke-width="0.8"/>
<circle cx="796.00" cy="370.90" r="6" fill="#fff"/><circle cx="796.00" cy="370.90" r="3.65" fill="#cc3557" stroke="#c4062c" stroke-width="0.8"/>
<circle cx="827.50" cy="368.10" r="6" fill="#fff"/><circle cx="827.50" cy="368.10" r="3.65" fill="#cc3557" stroke="#c4062c" stroke-width="0.8"/>
<circle cx="857.50" cy="362.10" r="6" fill="#fff"/><circle cx="857.50" cy="362.10" r="3.65" fill="#cc3557" stroke="#c4062c" stroke-width="0.8"/>
<circle cx="889.00" cy="363.50" r="6" fill="#fff"/><circle cx="889.00" cy="363.50" r="3.65" fill="#cc3557" stroke="#c4062c" stroke-width="0.8"/>
<circle cx="919.00" cy="359.00" r="6" fill="#fff"/><circle cx="919.00" cy="359.00" r="3.65" fill="#cc3557" stroke="#c4062c" stroke-width="0.8"/>
<circle cx="949.00" cy="360.30" r="6" fill="#fff"/><circle cx="949.00" cy="360.30" r="3.65" fill="#cc3557" stroke="#c4062c" stroke-width="0.8"/>
<circle cx="980.50" cy="356.00" r="6" fill="#fff"/><circle cx="980.50" cy="356.00" r="3.65" fill="#cc3557" stroke="#c4062c" stroke-width="0.8"/>
<circle cx="1010.50" cy="351.60" r="6" fill="#fff"/><circle cx="1010.50" cy="351.60" r="3.65" fill="#cc3557" stroke="#c4062c" stroke-width="0.8"/>
<circle cx="1042.00" cy="345.60" r="6" fill="#fff"/><circle cx="1042.00" cy="345.60" r="3.65" fill="#cc3557" stroke="#c4062c" stroke-width="0.8"/>
<circle cx="1072.00" cy="284.00" r="6" fill="#fff"/><circle cx="1072.00" cy="284.00" r="3.65" fill="#cc3557" stroke="#c4062c" stroke-width="0.8"/>
<circle cx="1102.00" cy="201.40" r="6" fill="#fff"/><circle cx="1102.00" cy="201.40" r="3.65" fill="#cc3557" stroke="#c4062c" stroke-width="0.8"/>
<circle cx="1133.50" cy="141.60" r="6" fill="#fff"/><circle cx="1133.50" cy="141.60" r="3.65" fill="#cc3557" stroke="#c4062c" stroke-width="0.8"/>
<circle cx="1163.50" cy="146.10" r="6" fill="#fff"/><circle cx="1163.50" cy="146.10" r="3.65" fill="#cc3557" stroke="#c4062c" stroke-width="0.8"/>
<circle cx="1195.00" cy="106.80" r="6" fill="#fff"/><circle cx="1195.00" cy="106.80" r="3.65" fill="#cc3557" stroke="#c4062c" stroke-width="0.8"/>
<circle cx="1225.00" cy="102.40" r="6" fill="#fff"/><circle cx="1225.00" cy="102.40" r="3.65" fill="#cc3557" stroke="#c4062c" stroke-width="0.8"/>
<circle cx="1255.00" cy="106.80" r="6" fill="#fff"/><circle cx="1255.00" cy="106.80" r="3.65" fill="#cc3557" stroke="#c4062c" stroke-width="0.8"/>
<circle cx="1286.50" cy="105.50" r="6" fill="#fff"/><circle cx="1286.50" cy="105.50" r="3.65" fill="#cc3557" stroke="#c4062c" stroke-width="0.8"/>
<circle cx="1316.50" cy="106.70" r="6" fill="#fff"/><circle cx="1316.50" cy="106.70" r="3.65" fill="#cc3557" stroke="#c4062c" stroke-width="0.8"/>
<circle cx="1348.00" cy="105.50" r="6" fill="#fff"/><circle cx="1348.00" cy="105.50" r="3.65" fill="#cc3557" stroke="#c4062c" stroke-width="0.8"/>
<circle cx="1378.00" cy="122.00" r="6" fill="#fff"/><circle cx="1378.00" cy="122.00" r="3.65" fill="#cc3557" stroke="#c4062c" stroke-width="0.8"/>
    </g>
    <path d="M16.1 68V603.9" fill="none" stroke="#4c4c53" stroke-width="2"/><path d="M15.1 603.25H1378.5" fill="none" stroke="#4c4c53" stroke-width="1.4"/>
    <g font-size="21" fill="#4e4e4e">
<text transform="translate(107.50 636.8) scale(1 1.06)" text-anchor="middle">03.07.2018</text>
<text transform="translate(307.00 636.8) scale(1 1.06)" text-anchor="middle">16.07.2018</text>
<text transform="translate(505.00 636.8) scale(1 1.06)" text-anchor="middle">29.07.2018</text>
<text transform="translate(704.50 636.8) scale(1 1.06)" text-anchor="middle">11.08.2018</text>
<text transform="translate(904.00 636.8) scale(1 1.06)" text-anchor="middle">24.08.2018</text>
<text transform="translate(1102.00 636.8) scale(1 1.06)" text-anchor="middle">06.09.2018</text>
<text transform="translate(1377.80 636.8) scale(1 1.06)" text-anchor="end">24.09.2018</text>
    </g>
    <g>
      <rect x="71.5" y="98.5" width="178" height="73" fill="rgba(255,255,255,0.45)" stroke="#b2b0ae" stroke-width="1"/>
      <circle cx="86.4" cy="118.5" r="7.45" fill="#c92e51"/>
      <circle cx="86.4" cy="151.6" r="7.45" fill="#4472c9"/>
      <g font-size="20.3" fill="#000" stroke="#fff" stroke-width="3.2" stroke-linejoin="round" paint-order="stroke" transform="translate(110 0) scale(1.05 1)">
        <text x="0" y="125.7">etsy.com</text>
        <text x="0" y="158.8">dawanda.com</text>
      </g>
    </g>
  </svg>
</div>
</body>
</html>
